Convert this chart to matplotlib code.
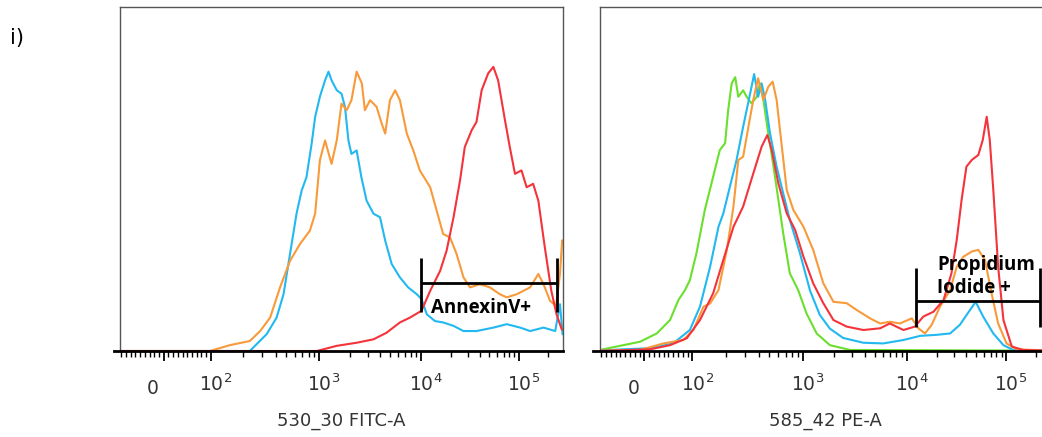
import numpy as np
import matplotlib
matplotlib.use("Agg")
import matplotlib.pyplot as plt
from matplotlib.transforms import ScaledTranslation

# ---------------- data (x = display channel 0-1024, y = % of axis height) ----------------
fitc_blue_ch = [0, 300, 339, 362, 378, 393, 408, 420, 431, 443, 451, 462, 474, 482, 489, 501, 512, 520, 528, 535,
                547, 558, 570, 586, 601, 613, 628, 647, 666, 686, 697, 709, 728, 747, 771, 794, 824, 863, 894,
                925, 948, 979, 1006, 1017, 1023]
fitc_blue_y = [0, 0, 4.9, 9.7, 16.5, 28.2, 39.9, 46.7, 50.5, 60.3, 68, 73.9, 78.7, 81.2, 78.7, 75.8, 74.8, 71, 61.2,
               57.3, 58.3, 50.5, 43.7, 39.9, 38.9, 32.1, 25.3, 21.4, 18.5, 16.5, 15.1, 10.7, 8.7, 8.3, 7.3, 5.8,
               5.8, 6.8, 7.8, 6.8, 5.8, 6.8, 5.8, 13.6, 4.9]

fitc_orange_ch = [0, 208, 254, 300, 324, 347, 370, 393, 416, 439, 451, 462, 474, 489, 501, 512, 524, 535, 547, 559,
                  566, 578, 593, 605, 613, 624, 636, 647, 663, 678, 693, 717, 732, 747, 763, 778, 794, 809, 832,
                  855, 878, 894, 917, 948, 967, 979, 994, 1008, 1017, 1022]
fitc_orange_y = [0, 0, 1.7, 2.9, 5.8, 9.7, 18.5, 26.2, 31.1, 35, 39.9, 55.4, 61.2, 54.4, 61.2, 71.9, 70, 72.9, 81.2,
                 77.8, 70, 72.9, 71, 66.1, 63.2, 72.9, 75.8, 72.9, 63.2, 58.3, 52.5, 47.6, 40.8, 34, 33, 28.2,
                 21.4, 18.5, 19.4, 18.5, 16.5, 15.6, 16.5, 18.5, 22.4, 19.4, 14.6, 13.1, 22.4, 32.1]

fitc_red_ch = [0, 455, 501, 547, 586, 616, 647, 670, 697, 717, 740, 755, 771, 786, 797, 813, 824, 836, 851, 863,
               874, 890, 901, 913, 928, 940, 955, 967, 982, 997, 1009, 1021]
fitc_red_y = [0, 0, 1.5, 2.4, 3.4, 5.3, 8.3, 9.7, 11.7, 17.5, 23.3, 29.2, 38.9, 49.6, 59.3, 64.2, 66.6, 75.8, 80.7,
              82.6, 78.7, 67, 59.3, 51.5, 52.5, 47.6, 48.6, 43.7, 30.1, 17.5, 10.7, 6.3]

pe_green_ch = [0, 38, 91, 129, 159, 178, 193, 204, 219, 238, 257, 272, 284, 291, 299, 307, 314, 325, 333, 344, 356,
               363, 371, 382, 394, 405, 416, 431, 450, 469, 492, 522, 568, 1024]
pe_green_y = [0.3, 1.3, 2.7, 5.1, 9, 14.8, 17.7, 20.6, 28.4, 41, 50.7, 58.4, 60.4, 70, 77.8, 79.6, 73.9, 75.8, 73.9,
              72, 73.9, 77.8, 73, 63.3, 53.6, 43.9, 34.2, 22.6, 17.7, 10.9, 5.1, 1.7, 0.3, 0.1]

pe_blue_ch = [0, 53, 114, 166, 204, 227, 250, 269, 280, 295, 310, 325, 341, 350, 359, 367, 375, 386, 401, 416, 431,
              454, 477, 499, 522, 552, 598, 643, 689, 727, 764, 795, 817, 840, 853, 870, 893, 916, 938, 1024]
pe_blue_y = [0.1, 0.5, 0.8, 2.2, 6.1, 12.9, 24.5, 36.1, 40, 47.8, 55.5, 65.2, 74.9, 80.5, 73.9, 77.8, 73, 63.3, 53.6,
             45.8, 38.1, 28.4, 17.5, 10.5, 6.5, 3.8, 2.4, 2.2, 3.2, 4.4, 4.7, 5.1, 7.6, 11.9, 14.3, 10, 5.1, 1.7,
             0.3, 0.1]

pe_orange_ch = [0, 91, 144, 189, 212, 235, 250, 269, 288, 303, 314, 325, 337, 348, 359, 371, 382, 392, 401, 412, 424,
                439, 462, 484, 507, 530, 560, 583, 613, 636, 658, 681, 708, 723, 738, 753, 772, 795, 810, 825,
                844, 859, 874, 889, 904, 923, 946, 1024]
pe_orange_y = [0.1, 0.3, 2.2, 3.2, 6.1, 12.9, 13.8, 17.7, 29.4, 42, 55.5, 56.5, 65.2, 73, 79.3, 73, 76.8, 78.3, 73,
               60.4, 46.8, 41, 36.1, 29.4, 19.7, 14.3, 13.9, 11.9, 9.5, 8, 8.5, 8, 9.5, 6.6, 5.1, 7.6, 12.9,
               17.7, 24.5, 27.4, 28.9, 29.4, 26.5, 16.8, 8, 2.2, 0.5, 0.1]

pe_red_ch = [0, 114, 159, 197, 227, 257, 280, 303, 325, 348, 367, 380, 390, 405, 424, 443, 462, 484, 507, 530, 560,
             598, 636, 658, 689, 715, 734, 757, 780, 798, 810, 821, 832, 844, 859, 869, 878, 885, 893, 904, 916,
             935, 961, 1024]
pe_red_y = [0, 0.5, 1.7, 3.7, 9, 16.8, 26.5, 36.1, 42, 51.6, 59.4, 62.8, 58.4, 48.7, 40, 35.2, 27.4, 19.7, 13.9, 9,
            7.1, 6.1, 6.6, 8, 6.1, 7.1, 10, 11.4, 14.8, 22.6, 32.3, 43.9, 53.6, 55.5, 57, 61.3, 68.1, 61.3, 46.8,
            24.5, 9, 1.3, 0.3, 0.1]

# gates: (left, right) channel; (bar top, bar bottom, bracket y)
annexin_gate_ch = [696, 1010]
annexin_gate_y = [27.0, 11.3, 19.8]
pi_gate_ch = [717, 999]
pi_gate_y = [24.1, 7.0, 14.5]

tick_values = [0, 100, 1000, 10000, 100000]
tick_labels = ["0", r"$\mathregular{10^2}$", r"$\mathregular{10^3}$", r"$\mathregular{10^4}$", r"$\mathregular{10^5}$"]
xlabels = ["530_30 FITC-A", "585_42 PE-A"]

# ---------------- display mapping of the biexponential axis ----------------
DEC_LOG = [2, 3, 4, 5]
DEC_CH = [210, 460, 696, 922]
ZERO_CH = 101


def to_channel(v):
    if v < 100:
        return ZERO_CH + v * (DEC_CH[0] - ZERO_CH) / 100.0
    lv = np.log10(v)
    if lv > 5:
        return DEC_CH[-1] + (lv - 5) * (DEC_CH[-1] - DEC_CH[-2])
    return float(np.interp(lv, DEC_LOG, DEC_CH))


major_ch = [to_channel(v) for v in tick_values]
minor_vals = [v for v in range(-90, 100, 10) if v != 0]
for k in (2, 3, 4):
    for m in range(2, 10):
        minor_vals.append(m * 10 ** k)
minor_vals += [2e5]
minor_ch = [to_channel(v) for v in minor_vals]
minor_ch = [c for c in minor_ch if 0 < c < 1024]

C_BLUE = "#22B8F0"
C_ORANGE = "#F99A3A"
C_RED = "#F4333A"
C_GREEN = "#6ADF2E"
LW = 1.5

W, H = 1042, 437
fig = plt.figure(figsize=(W / 100, H / 100), dpi=100)

ax1 = fig.add_axes([120 / W, (H - 351) / H, 443 / W, 344 / H])
ax2 = fig.add_axes([600 / W, (H - 351) / H, 451 / W, 344 / H])

ax1.plot(fitc_blue_ch, fitc_blue_y, color=C_BLUE, lw=LW)
ax1.plot(fitc_orange_ch, fitc_orange_y, color=C_ORANGE, lw=LW)
ax1.plot(fitc_red_ch, fitc_red_y, color=C_RED, lw=LW)

ax2.plot(pe_green_ch, pe_green_y, color=C_GREEN, lw=LW)
ax2.plot(pe_blue_ch, pe_blue_y, color=C_BLUE, lw=LW)
ax2.plot(pe_orange_ch, pe_orange_y, color=C_ORANGE, lw=LW)
ax2.plot(pe_red_ch, pe_red_y, color=C_RED, lw=LW)


def draw_gate(ax, gch, gy):
    kw = dict(color="black", lw=2.0, solid_capstyle="butt", clip_on=False)
    ax.plot([gch[0], gch[0]], [gy[0], gy[1]], **kw)
    ax.plot([gch[1], gch[1]], [gy[0], gy[1]], **kw)
    ax.plot([gch[0], gch[1]], [gy[2], gy[2]], **kw)


draw_gate(ax1, annexin_gate_ch, annexin_gate_y)
draw_gate(ax2, pi_gate_ch, pi_gate_y)

gate_font = dict(family=["Open Sans", "DejaVu Sans"], fontweight="bold", fontsize=13.5, color="black")
ax1.text(719, 12.5, "AnnexinV+", ha="left", va="center", **gate_font)
ax2.text(765, 25.0, "Propidium", ha="left", va="center", **gate_font)
ax2.text(765, 18.3, "Iodide +", ha="left", va="center", **gate_font)

for ax, xl in zip((ax1, ax2), xlabels):
    ax.set_xlim(0, 1024)
    ax.set_ylim(0, 100)
    ax.set_yticks([])
    ax.set_xticks(major_ch)
    ax.set_xticklabels(tick_labels)
    ax.set_xticks(minor_ch, minor=True)
    ax.tick_params(axis="x", which="major", direction="out", length=7, width=1.3, color="black",
                   labelsize=13.5, labelcolor="#333333", pad=9)
    ax.tick_params(axis="x", which="minor", direction="out", length=4, width=1.0, color="black")
    for s in ("left", "top", "right"):
        ax.spines[s].set_color("#555555")
        ax.spines[s].set_linewidth(1.0)
    ax.spines["bottom"].set_color("black")
    ax.spines["bottom"].set_linewidth(2.0)
    ax.spines["bottom"].set_bounds(-15, 1024)
    ax.set_xlabel(xl, fontsize=13, color="#333333", labelpad=10)
    for lab in ax.get_xticklabels():
        if lab.get_text() == "0":
            lab.set_transform(lab.get_transform() + ScaledTranslation(-11 / 100, -6 / 100, fig.dpi_scale_trans))
        else:
            lab.set_transform(lab.get_transform() + ScaledTranslation(5 / 100, 0, fig.dpi_scale_trans))

fig.text(10 / W, 1 - 38 / H, "i)", fontsize=15, color="black", va="center", ha="left")

fig.savefig("out.png", dpi=100)
